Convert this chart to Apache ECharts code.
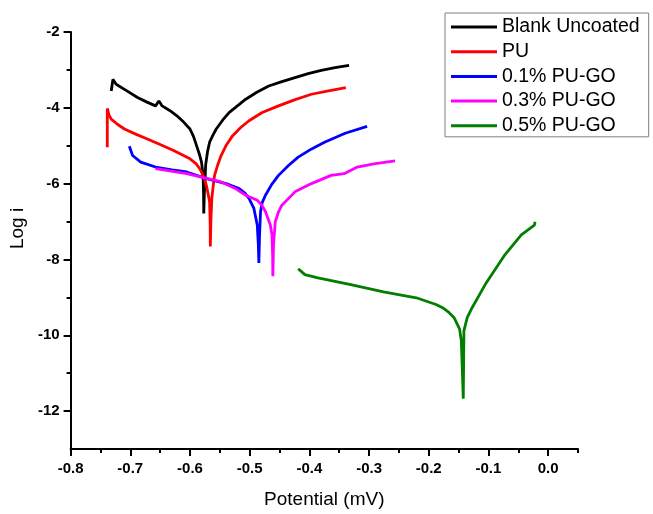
<!DOCTYPE html>
<html>
<head>
<meta charset="utf-8">
<script src="https://cdn.jsdelivr.net/npm/echarts@6/dist/echarts.min.js"></script>
<style>
html,body{margin:0;padding:0;background:#fff;}
#chart{width:653px;height:514px;}
</style>
</head>
<body>
<div id="chart"></div>
<script>
// ---- data (potential in V, log i) ----
const seriesNames = ['Blank Uncoated', 'PU', '0.1% PU-GO', '0.3% PU-GO', '0.5% PU-GO'];
const blankUncoated = [
  [-0.7319,-3.556],[-0.7291,-3.249],[-0.7237,-3.380],[-0.7050,-3.560],[-0.6879,-3.729],
  [-0.6720,-3.850],[-0.6577,-3.949],[-0.6545,-3.960],[-0.6521,-3.818],[-0.6495,-3.880],
  [-0.6467,-3.949],[-0.6340,-4.070],[-0.6219,-4.211],[-0.6110,-4.370],[-0.6000,-4.559],
  [-0.5940,-4.760],[-0.5890,-4.996],[-0.5845,-5.210],[-0.5807,-5.431],[-0.5790,-5.650],
  [-0.5779,-5.868],[-0.5772,-6.300],[-0.5769,-6.785],[-0.5758,-6.200],[-0.5745,-5.800],
  [-0.5737,-5.500],[-0.5705,-5.150],[-0.5671,-4.907],[-0.5615,-4.720],[-0.5560,-4.559],
  [-0.5450,-4.320],[-0.5341,-4.122],[-0.5200,-3.940],[-0.5066,-3.773],[-0.4880,-3.590],
  [-0.4681,-3.425],[-0.4460,-3.310],[-0.4241,-3.205],[-0.4020,-3.100],[-0.3801,-3.014],
  [-0.3570,-2.940],[-0.3335,-2.883]
];
const pu = [
  [-0.7385,-5.038],[-0.7385,-4.500],[-0.7385,-4.017],[-0.7355,-4.200],[-0.7319,-4.297],
  [-0.7210,-4.440],[-0.7098,-4.559],[-0.6900,-4.700],[-0.6714,-4.821],[-0.6500,-4.970],
  [-0.6274,-5.127],[-0.6000,-5.345],[-0.5900,-5.470],[-0.5835,-5.607],[-0.5770,-5.820],
  [-0.5725,-6.044],[-0.5671,-6.479],[-0.5662,-7.000],[-0.5659,-7.657],[-0.5650,-7.000],
  [-0.5634,-6.390],[-0.5610,-6.050],[-0.5588,-5.782],[-0.5530,-5.480],[-0.5478,-5.258],
  [-0.5390,-4.980],[-0.5285,-4.734],[-0.5150,-4.520],[-0.5011,-4.342],[-0.4790,-4.122],
  [-0.4517,-3.949],[-0.4250,-3.790],[-0.3966,-3.642],[-0.3680,-3.550],[-0.3389,-3.467]
];
const puGo01 = [
  [-0.7016,-5.012],[-0.6961,-5.258],[-0.6825,-5.431],[-0.6577,-5.562],[-0.6300,-5.640],
  [-0.6055,-5.693],[-0.5725,-5.868],[-0.5395,-5.999],[-0.5176,-6.130],[-0.5080,-6.250],
  [-0.5011,-6.392],[-0.4929,-6.654],[-0.4873,-7.092],[-0.4855,-7.600],[-0.4846,-8.095],
  [-0.4835,-7.400],[-0.4818,-6.741],[-0.4790,-6.500],[-0.4736,-6.306],[-0.4630,-6.020],
  [-0.4517,-5.782],[-0.4350,-5.520],[-0.4187,-5.300],[-0.3970,-5.090],[-0.3747,-4.907],
  [-0.3400,-4.670],[-0.3033,-4.488]
];
const puGo03 = [
  [-0.6577,-5.607],[-0.6055,-5.738],[-0.5506,-5.939],[-0.5250,-6.120],[-0.5066,-6.306],
  [-0.4873,-6.437],[-0.4800,-6.560],[-0.4736,-6.733],[-0.4654,-7.092],[-0.4626,-7.354],
  [-0.4615,-7.900],[-0.4612,-8.443],[-0.4600,-7.600],[-0.4571,-7.003],[-0.4520,-6.760],
  [-0.4461,-6.568],[-0.4241,-6.217],[-0.3966,-5.999],[-0.3636,-5.782],[-0.3417,-5.738],
  [-0.3198,-5.562],[-0.2922,-5.476],[-0.2565,-5.397]
];
const puGo05 = [
  [-0.4187,-8.244],[-0.4076,-8.401],[-0.3857,-8.488],[-0.3307,-8.663],[-0.2758,-8.854],
  [-0.2209,-9.011],[-0.1879,-9.187],[-0.1768,-9.273],[-0.1658,-9.404],[-0.1576,-9.535],
  [-0.1521,-9.711],[-0.1483,-9.842],[-0.1455,-10.146],[-0.1440,-10.800],[-0.1422,-11.675],
  [-0.1415,-10.600],[-0.1411,-9.884],[-0.1356,-9.535],[-0.1274,-9.273],[-0.1164,-8.967],
  [-0.1055,-8.663],[-0.0725,-7.877],[-0.0450,-7.354],[-0.0230,-7.092],[-0.0219,-7.003]
];
const seriesColors = ['#000000', '#ff0000', '#0000ff', '#ff00ff', '#007f00'];
const xMajorTicks = [-0.8,-0.7,-0.6,-0.5,-0.4,-0.3,-0.2,-0.1,0.0];
const xMinorTicks = [-0.75,-0.65,-0.55,-0.45,-0.35,-0.25,-0.15,-0.05,0.05];
const yMajorTicks = [-2,-4,-6,-8,-10,-12];
const yMinorTicks = [-3,-5,-7,-9,-11];
const xTitle = 'Potential (mV)';
const yTitle = 'Log i';

const allData = [blankUncoated, pu, puGo01, puGo03, puGo05];
const chart = echarts.init(document.getElementById('chart'), null, {renderer: 'canvas'});
const font = 'Liberation Sans, Arial, sans-serif';
const axLine = {show: true, onZero: false, lineStyle: {color: '#000', width: 2}};
const noLine = {show: false, onZero: false};

const option = {
  animation: false,
  backgroundColor: '#fff',
  grid: {left: 62, right: 75, top: 32, bottom: 61, containLabel: false},
  legend: {
    orient: 'vertical',
    left: 445, top: 13,
    data: seriesNames,
    icon: 'rect',
    itemWidth: 46, itemHeight: 3,
    itemGap: 4.7,
    padding: [4, 9, 1, 6],
    borderColor: '#808080', borderWidth: 1,
    backgroundColor: '#fff',
    textStyle: {fontFamily: font, fontSize: 19.5, color: '#000', lineHeight: 20}
  },
  xAxis: [{
    type: 'value', min: -0.8, max: 0.05,
    axisLine: axLine,
    splitLine: {show: false},
    axisTick: {show: true, inside: false, length: 7, lineStyle: {width: 2, color: '#000'}, customValues: xMajorTicks},
    axisLabel: {show: true, margin: 12, fontFamily: font, fontWeight: 'bold', fontSize: 15, color: '#000',
      customValues: xMajorTicks, formatter: v => v.toFixed(1)},
    name: xTitle, nameLocation: 'middle', nameGap: 41,
    nameTextStyle: {fontFamily: font, fontSize: 19, color: '#000'}
  }, {
    type: 'value', min: -0.8, max: 0.05, position: 'bottom',
    axisLine: noLine, splitLine: {show: false},
    axisTick: {show: true, inside: false, length: 4, lineStyle: {width: 2, color: '#000'}, customValues: xMinorTicks},
    axisLabel: {show: false}
  }],
  yAxis: [{
    type: 'value', min: -13, max: -2,
    axisLine: axLine,
    splitLine: {show: false},
    axisTick: {show: true, inside: false, length: 7, lineStyle: {width: 2, color: '#000'}, customValues: yMajorTicks},
    axisLabel: {show: true, margin: 11, fontFamily: font, fontWeight: 'bold', fontSize: 15, color: '#000',
      customValues: yMajorTicks},
    name: yTitle, nameLocation: 'middle', nameGap: 31, nameRotate: 90,
    nameTextStyle: {fontFamily: font, fontSize: 19, color: '#000', padding: [0, 0, 0, 24]}
  }, {
    type: 'value', min: -13, max: -2, position: 'left',
    axisLine: noLine, splitLine: {show: false},
    axisTick: {show: true, inside: false, length: 4, lineStyle: {width: 2, color: '#000'}, customValues: yMinorTicks},
    axisLabel: {show: false}
  }],
  series: seriesNames.map((n, i) => ({
    name: n, type: 'line', data: allData[i],
    xAxisIndex: 0, yAxisIndex: 0,
    showSymbol: false, symbol: 'none',
    color: seriesColors[i],
    lineStyle: {width: 2.8, color: seriesColors[i]},
    itemStyle: {color: seriesColors[i]},
    smooth: false
  }))
};
chart.setOption(option);
</script>
</body>
</html>
